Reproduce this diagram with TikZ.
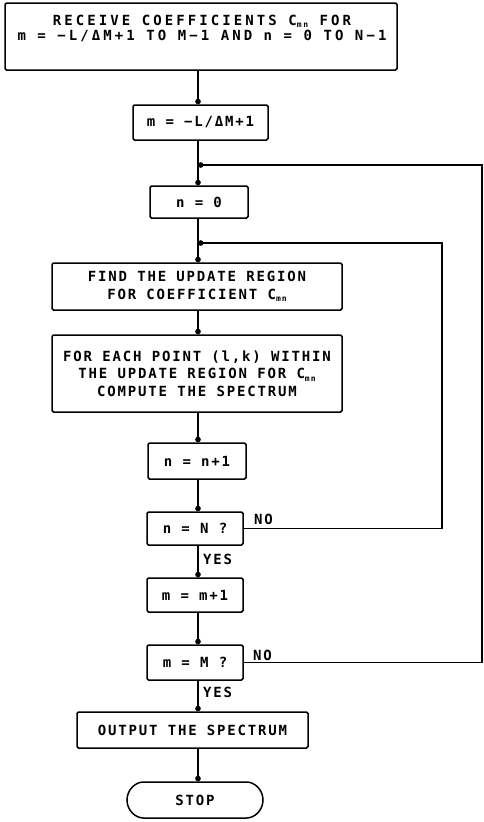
\documentclass[tikz,border=0pt]{standalone}
\usepackage{fontspec}
\setmainfont{DejaVu Sans Mono}[LetterSpace=13]
\usetikzlibrary{arrows.meta,shapes.misc}
\newcommand{\Cmn}{C\raisebox{-2.5pt}{\fontsize{8}{8}\selectfont mn}}
\begin{document}
\begin{tikzpicture}[x=1pt,y=-1pt,
  box/.style={draw, line width=1.5pt, rounded corners=1.5pt, inner sep=0pt,
    font=\fontsize{14}{17.5}\selectfont\bfseries, align=center},
  conn/.style={line width=1.5pt, -{Circle[length=5.5pt]}},
  lbl/.style={font=\fontsize{14}{16}\selectfont\bfseries, inner sep=0pt}]
\useasboundingbox (0,0) rectangle (484,822);
\coordinate (m) at (198,0);
\coordinate (j1) at (198,165);
\coordinate (j2) at (198,243);
\coordinate (r1) at (482,165);
\coordinate (r2) at (442,243);

\node[box, minimum width=392pt, minimum height=67pt] (b1) at (201,36.5) {};
\node[lbl, align=center, font=\fontsize{14}{15}\selectfont\bfseries\addfontfeatures{LetterSpace=22}] (b1t) at (202,28)
  {RECEIVE COEFFICIENTS \Cmn{} FOR\\m = −L/ΔM+1 TO M−1 AND n = 0 TO N−1};
\node[box, minimum width=135pt, minimum height=35pt] (b2) at (200.5,122.5) {m = −L/ΔM+1};
\node[box, minimum width=98pt, minimum height=32pt] (b3) at (199,202) {n = 0};
\node[box, minimum width=290pt, minimum height=47pt] (b4) at (197,286.5)
  {FIND THE UPDATE REGION\\FOR COEFFICIENT \Cmn};
\node[box, minimum width=290pt, minimum height=77pt] (b5) at (197,373.5)
  {FOR EACH POINT (l,k) WITHIN\\THE UPDATE REGION FOR \Cmn\\COMPUTE THE SPECTRUM};
\node[box, minimum width=98pt, minimum height=36pt] (b6) at (197,461) {n = n+1};
\node[box, minimum width=96pt, minimum height=33pt] (b7) at (195,528.5) {n = N ?};
\node[box, minimum width=96pt, minimum height=34pt] (b8) at (195,595) {m = m+1};
\node[box, minimum width=96pt, minimum height=35pt] (b9) at (195,662.5) {m = M ?};
\node[box, minimum width=231pt, minimum height=36pt] (b10) at (192.5,730) {OUTPUT THE SPECTRUM};
\node[box, rounded rectangle, minimum width=136pt, minimum height=36pt] (stop) at (195,800) {STOP};

\node[lbl, anchor=west] (no1) at (254,519) {NO};
\node[lbl, anchor=west] (yes1) at (203,559) {YES};
\node[lbl, anchor=west] (no2) at (253,655) {NO};
\node[lbl, anchor=west] (yes2) at (203,692) {YES};

\draw[conn] (b1.south -| m) -- (b2.north -| m);
\draw[conn] (b2.south -| m) -- (b3.north -| m);
\draw[conn] (b3.south -| m) -- (b4.north -| m);
\draw[conn] (b4.south -| m) -- (b5.north -| m);
\draw[conn] (b5.south -| m) -- (b6.north -| m);
\draw[conn] (b6.south -| m) -- (b7.north -| m);
\draw[conn] (b7.south -| m) -- (b8.north -| m);
\draw[conn] (b8.south -| m) -- (b9.north -| m);
\draw[conn] (b9.south -| m) -- (b10.north -| m);
\draw[conn] (b10.south -| m) -- (stop.north -| m);
\draw[conn] (b7.east) -| (r2) -- (j2);
\draw[conn] (b9.east) -| (r1) -- (j1);
\end{tikzpicture}
\end{document}
